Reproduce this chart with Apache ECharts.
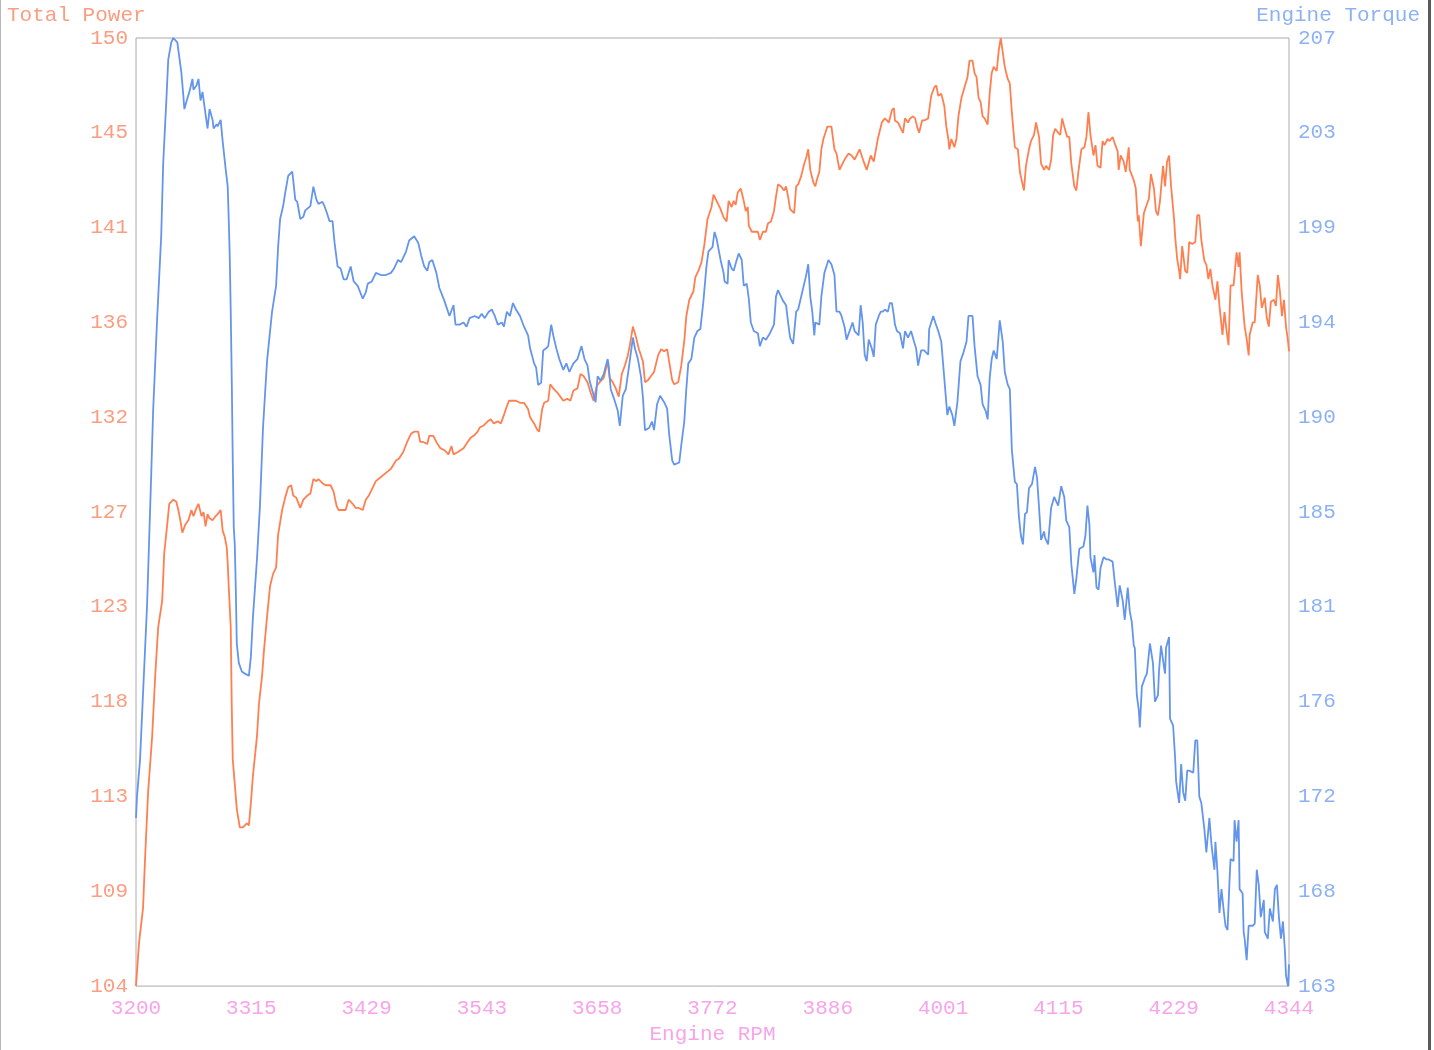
<!DOCTYPE html>
<html>
<head>
<meta charset="utf-8">
<script src="https://cdn.jsdelivr.net/npm/echarts@6/dist/echarts.min.js"></script>
<style>
  html, body { margin: 0; padding: 0; background: #fff; }
  #chart { width: 1434px; height: 1050px; }
</style>
</head>
<body>
<div id="chart"></div>
<script>
// tick labels as printed on the original chart
var rpmLabels = ['3200', '3315', '3429', '3543', '3658', '3772', '3886', '4001', '4115', '4229', '4344'];
var powerLabels = ['104', '109', '113', '118', '123', '127', '132', '136', '141', '145', '150'];
var torqueLabels = ['163', '168', '172', '176', '181', '185', '190', '194', '199', '203', '207'];

// Total Power vs Engine RPM
var powerRpm = [3200,3203,3207,3209,3212,3216,3219,3222,3226,3228,3231,3233,3237,3240,3242,3244,3246,3249,3252,3255,3257,3260,3262,3265,3267,3269,3271,3273,3276,3279,3281,3284,3286,3288,3290,3291,3292,3294,3295,3296,3298,3300,3301,3303,3306,3310,3312,3314,3316,3320,3322,3325,3327,3330,3333,3336,3339,3341,3345,3348,3351,3354,3356,3359,3363,3366,3370,3373,3376,3379,3381,3385,3388,3391,3393,3396,3399,3401,3405,3408,3411,3415,3418,3421,3425,3428,3431,3435,3438,3443,3448,3453,3458,3461,3465,3469,3473,3476,3480,3482,3485,3489,3491,3495,3498,3502,3506,3510,3513,3515,3519,3522,3525,3529,3532,3535,3539,3541,3545,3549,3552,3555,3559,3562,3565,3567,3570,3574,3577,3581,3585,3589,3591,3595,3598,3600,3603,3605,3609,3611,3614,3618,3621,3624,3628,3631,3634,3638,3641,3644,3648,3651,3654,3657,3660,3664,3668,3670,3673,3676,3679,3682,3685,3688,3690,3693,3696,3699,3703,3705,3708,3711,3714,3718,3721,3724,3727,3729,3732,3734,3738,3741,3744,3746,3749,3753,3755,3758,3761,3764,3767,3769,3771,3773,3775,3777,3780,3783,3786,3788,3791,3793,3795,3797,3800,3803,3805,3807,3808,3811,3813,3817,3819,3822,3825,3827,3830,3833,3835,3837,3840,3843,3845,3847,3849,3853,3855,3857,3860,3863,3865,3867,3869,3872,3874,3876,3878,3880,3882,3886,3890,3893,3895,3898,3903,3907,3910,3913,3918,3922,3925,3929,3932,3936,3940,3943,3945,3947,3950,3952,3953,3956,3958,3961,3963,3966,3968,3971,3973,3975,3977,3980,3982,3986,3989,3992,3994,3996,3999,4002,4004,4006,4007,4009,4012,4014,4016,4019,4022,4025,4027,4030,4032,4034,4036,4038,4040,4042,4045,4047,4049,4051,4054,4056,4058,4060,4062,4065,4067,4069,4072,4075,4077,4081,4083,4086,4088,4091,4093,4096,4098,4101,4103,4106,4108,4110,4112,4115,4117,4119,4121,4124,4126,4128,4131,4133,4135,4138,4141,4143,4145,4147,4150,4152,4154,4157,4159,4161,4164,4166,4169,4171,4174,4175,4177,4180,4182,4185,4186,4190,4192,4194,4195,4197,4200,4202,4205,4207,4210,4212,4214,4216,4219,4221,4223,4225,4227,4230,4231,4233,4235,4236,4238,4240,4241,4243,4245,4248,4251,4253,4255,4257,4260,4262,4264,4266,4268,4271,4273,4275,4278,4280,4282,4284,4286,4289,4292,4294,4295,4297,4300,4302,4304,4305,4308,4310,4313,4315,4317,4320,4322,4324,4326,4329,4331,4333,4335,4337,4339,4341,4343,4344];
var powerVal = [104.0,106.1,107.8,110.2,113.4,116.1,119.0,121.4,122.7,125.0,126.4,127.4,127.6,127.5,127.1,126.6,126.0,126.4,126.6,127.1,126.8,127.2,127.4,126.8,127.0,126.3,126.9,126.7,126.6,126.8,126.9,127.1,126.1,125.8,125.3,124.5,123.4,121.4,117.6,115.0,113.8,112.6,112.3,111.7,111.7,111.9,111.8,112.9,114.2,116.1,117.7,119.0,120.3,121.9,123.4,124.0,124.3,125.9,127.1,127.7,128.2,128.3,127.8,127.7,127.2,127.6,127.8,127.9,128.6,128.5,128.6,128.4,128.3,128.3,128.3,128.0,127.3,127.1,127.1,127.1,127.6,127.4,127.2,127.2,127.1,127.6,127.8,128.2,128.5,128.7,128.9,129.1,129.5,129.6,129.9,130.4,130.8,130.9,130.9,130.4,130.4,130.3,130.7,130.7,130.4,130.1,130.0,129.8,130.2,129.8,129.9,130.0,130.1,130.4,130.6,130.7,130.9,131.1,131.2,131.4,131.5,131.3,131.4,131.3,131.7,132.0,132.4,132.4,132.4,132.3,132.3,132.0,131.6,131.3,131.0,130.9,132.0,132.3,132.4,133.2,133.0,132.8,132.6,132.4,132.5,132.4,132.9,133.0,133.7,133.6,133.3,132.8,132.4,133.1,133.3,133.5,134.3,133.5,133.3,133.0,132.6,133.7,134.1,134.6,135.1,136.0,135.5,134.9,134.3,133.3,133.4,133.6,133.8,134.6,134.9,134.8,134.9,134.3,133.4,133.2,133.3,134.1,135.3,136.5,137.3,137.7,138.4,138.7,139.1,140.0,141.2,141.5,141.8,142.4,142.2,142.0,141.7,141.3,141.1,142.1,141.8,142.1,141.9,142.5,142.7,142.1,141.6,141.8,140.9,140.6,140.6,140.6,140.2,140.6,140.6,141.0,141.1,141.6,142.3,142.9,142.8,142.6,142.8,142.3,141.7,141.5,142.8,142.9,143.3,143.9,144.2,144.6,143.6,143.0,142.8,143.2,143.5,144.6,145.1,145.7,145.7,144.6,144.4,143.6,144.1,144.4,144.3,144.1,144.6,144.0,143.6,144.3,144.0,145.1,145.9,146.1,146.0,145.9,146.5,146.6,146.0,145.9,145.7,145.4,146.1,145.9,146.1,146.2,146.1,145.7,145.4,146.0,146.0,146.1,147.2,147.6,147.7,147.2,147.3,146.7,145.7,145.1,144.6,145.1,144.7,145.1,146.2,147.1,147.6,148.1,148.9,148.9,148.3,148.1,147.1,146.9,146.2,146.1,145.8,147.3,148.3,148.6,148.4,149.4,150.0,149.3,148.6,148.0,147.8,146.4,144.7,144.6,143.5,142.6,143.8,144.6,145.0,145.3,145.9,145.2,143.9,143.6,143.8,143.6,144.1,145.3,145.6,145.4,145.3,146.1,145.7,145.2,145.2,143.9,142.8,142.6,143.5,144.6,144.7,145.2,146.4,145.3,144.3,144.8,143.8,143.7,145.0,144.8,145.1,145.0,145.2,144.9,144.5,143.6,144.3,144.0,143.5,144.7,143.6,143.1,142.7,141.1,141.4,139.9,141.5,141.8,142.2,143.4,142.7,141.6,141.4,142.1,143.8,142.8,144.0,144.3,142.8,141.2,140.4,139.3,138.7,138.3,139.9,139.1,138.7,138.6,140.1,140.0,140.1,141.4,141.4,140.2,139.2,139.0,138.3,138.8,138.0,137.3,138.2,137.0,135.6,136.7,135.8,135.1,138.0,138.0,139.6,138.9,139.6,137.7,136.0,135.4,134.6,135.6,136.2,136.2,138.5,138.0,136.9,137.4,136.4,136.0,137.2,137.3,137.0,138.5,137.7,136.5,137.3,136.0,135.3,134.8];

// Engine Torque vs Engine RPM
var torqueRpm = [3200,3201,3204,3207,3211,3215,3217,3221,3225,3227,3230,3232,3235,3237,3241,3243,3245,3247,3248,3251,3253,3256,3257,3260,3262,3264,3266,3268,3271,3273,3276,3277,3280,3281,3284,3286,3289,3291,3292,3293,3294,3295,3296,3297,3298,3299,3300,3302,3305,3308,3312,3314,3316,3320,3323,3326,3330,3335,3339,3341,3343,3346,3348,3351,3355,3356,3358,3360,3363,3366,3368,3373,3376,3379,3381,3385,3387,3390,3392,3395,3397,3400,3403,3406,3409,3413,3416,3420,3425,3428,3430,3434,3438,3443,3448,3453,3456,3460,3463,3468,3471,3476,3480,3483,3486,3489,3491,3494,3498,3501,3506,3511,3515,3517,3521,3525,3528,3531,3536,3540,3543,3546,3550,3553,3556,3559,3563,3565,3568,3571,3574,3577,3581,3585,3589,3591,3595,3597,3599,3602,3604,3607,3609,3612,3614,3617,3620,3624,3627,3630,3634,3638,3642,3645,3648,3650,3653,3656,3658,3661,3664,3668,3669,3671,3674,3678,3680,3683,3686,3689,3693,3695,3698,3701,3703,3705,3709,3712,3714,3717,3720,3724,3727,3729,3732,3734,3739,3741,3744,3746,3748,3751,3754,3757,3760,3763,3766,3768,3772,3774,3776,3778,3780,3783,3784,3787,3788,3791,3793,3796,3798,3801,3803,3806,3808,3810,3813,3817,3819,3822,3825,3829,3833,3835,3837,3842,3845,3847,3849,3852,3855,3857,3860,3863,3865,3867,3869,3871,3873,3874,3878,3880,3883,3885,3887,3890,3893,3895,3898,3900,3903,3905,3908,3911,3913,3917,3919,3921,3923,3925,3927,3930,3932,3934,3937,3939,3941,3943,3946,3948,3950,3952,3953,3955,3958,3961,3963,3966,3969,3972,3974,3976,3979,3982,3986,3987,3991,3993,3996,3999,4002,4005,4007,4010,4012,4015,4018,4021,4024,4026,4030,4032,4035,4038,4040,4043,4045,4047,4049,4051,4054,4057,4060,4062,4065,4067,4069,4072,4074,4076,4078,4080,4082,4084,4086,4089,4092,4094,4096,4098,4101,4102,4105,4106,4108,4111,4113,4115,4118,4121,4123,4126,4128,4131,4133,4136,4140,4142,4144,4146,4147,4150,4151,4153,4155,4157,4160,4163,4165,4169,4171,4174,4176,4179,4181,4184,4186,4188,4190,4191,4193,4195,4196,4198,4201,4203,4206,4209,4211,4214,4215,4217,4220,4221,4222,4225,4226,4229,4231,4232,4235,4237,4239,4241,4243,4245,4249,4251,4253,4255,4257,4260,4262,4265,4267,4270,4271,4273,4275,4277,4279,4281,4283,4285,4286,4289,4290,4292,4294,4295,4298,4299,4300,4302,4304,4308,4310,4312,4314,4316,4319,4320,4323,4325,4328,4330,4332,4334,4336,4338,4340,4341,4343,4344];
var torqueVal = [170.8,171.8,173.5,176.6,180.7,186.6,189.7,194.0,197.8,201.2,204.0,206.0,206.8,207.0,206.8,206.1,205.4,204.3,203.7,204.2,204.5,205.1,204.6,204.8,205.1,204.1,204.5,203.8,202.8,203.7,203.2,202.8,203.0,202.9,203.2,202.2,200.9,200.1,198.6,196.9,194.3,191.2,187.4,184.3,183.5,181.5,178.9,178.0,177.6,177.5,177.4,178.3,180.1,182.8,185.3,188.9,192.0,194.3,195.5,197.3,198.6,199.2,199.8,200.6,200.8,200.4,199.5,199.4,198.6,198.7,199.0,199.2,200.1,199.5,199.3,199.4,199.2,198.8,198.5,198.5,197.5,196.4,196.3,195.8,195.8,196.4,195.7,195.5,194.9,195.2,195.6,195.7,196.1,196.0,196.0,196.1,196.3,196.7,196.6,197.1,197.6,197.8,197.5,196.9,196.4,196.2,196.6,196.7,196.1,195.4,194.8,194.1,194.6,193.7,193.7,193.8,193.6,194.0,194.1,194.0,194.2,194.0,194.3,194.4,194.1,193.7,193.8,193.6,194.3,194.1,194.7,194.4,194.1,193.6,193.2,192.6,191.9,191.7,190.9,191.0,192.5,192.6,192.7,193.7,193.2,192.6,192.1,191.6,191.9,191.5,191.9,192.1,192.7,192.1,191.8,191.1,190.6,190.1,191.3,191.1,191.4,192.1,191.8,190.7,190.3,189.7,189.0,190.4,190.7,191.7,193.1,192.6,192.1,191.3,190.3,188.8,188.9,189.2,188.8,190.0,190.4,190.1,189.8,188.6,187.4,187.2,187.3,188.1,189.2,190.7,191.9,192.1,193.1,193.4,193.5,194.8,196.4,197.1,197.3,198.0,197.7,197.2,196.7,196.1,195.7,195.6,196.7,196.3,196.2,196.7,197.0,196.7,195.5,195.6,194.9,193.8,193.4,193.3,192.7,193.1,193.0,193.3,193.7,195.0,195.3,194.8,194.6,193.8,193.1,192.8,194.3,194.4,195.0,195.6,196.0,196.5,195.0,194.3,193.2,193.8,193.7,195.0,196.1,196.4,196.7,196.5,196.0,194.3,194.3,194.1,193.6,193.0,193.4,193.8,193.4,193.2,194.6,193.8,192.3,192.0,193.0,192.6,192.2,193.7,194.1,194.3,194.3,194.4,194.3,194.7,194.7,194.1,193.7,193.4,193.3,192.6,193.4,193.1,193.4,192.9,192.6,191.8,192.5,192.5,192.3,193.5,194.1,193.8,193.4,192.9,191.2,189.5,189.9,189.5,189.0,190.1,192.0,192.4,192.9,194.1,194.1,192.7,191.3,190.9,190.0,189.7,189.3,191.2,192.1,192.5,192.1,193.9,192.9,191.5,190.9,190.7,187.9,186.4,186.3,184.8,183.9,183.5,184.9,185.0,186.1,186.3,187.1,186.6,185.2,183.7,184.1,183.8,183.5,184.1,185.2,185.7,185.5,185.3,186.2,185.7,184.6,184.3,182.6,181.2,181.9,183.3,183.4,183.9,185.3,184.4,182.9,182.2,183.0,181.5,181.4,182.4,182.9,182.8,182.8,182.7,181.8,180.6,181.6,180.9,180.0,181.5,180.4,179.9,178.8,178.7,176.5,175.8,175.0,176.9,177.3,177.5,178.9,178.0,176.2,176.5,177.6,178.8,177.8,177.5,178.7,179.2,175.4,175.1,173.6,172.5,171.5,173.3,172.0,171.6,173.0,173.0,172.9,174.4,174.4,171.8,171.5,170.3,169.2,170.8,169.6,168.4,169.7,168.3,166.4,167.5,166.6,165.8,165.6,167.9,168.9,168.8,170.7,169.7,170.7,167.5,167.3,165.5,165.2,164.2,165.8,165.8,165.9,168.4,167.7,166.2,167.0,165.5,165.2,166.6,166.0,167.5,167.7,166.2,165.2,166.0,164.6,163.5,163.0,164.0];

var RPM_MIN = 3200, RPM_MAX = 4344;
var POWER_MIN = 104, POWER_MAX = 150;
var TORQUE_MIN = 163, TORQUE_MAX = 207;

// evenly spaced tick positions, labelled with the printed (rounded) numbers
function steps(min, max, n) {
  var out = [];
  for (var i = 0; i <= n; i++) out.push(min + (max - min) * i / n);
  return out;
}
function labelAt(labels, min, max) {
  return function(v) {
    var i = Math.round((v - min) / (max - min) * (labels.length - 1));
    return labels[i] || '';
  };
}
function pairs(xs, ys) {
  return xs.map(function(x, i) { return [x, ys[i]]; });
}

var red = '#ff7f50';
var blue = '#6495ed';
var redText = '#fb9d80';
var blueText = '#8db2f4';
var pinkText = '#f9a3e8';
var font = '"Liberation Mono", "DejaVu Sans Mono", monospace';

var chart = echarts.init(document.getElementById('chart'), null, { renderer: 'canvas' });
chart.setOption({
  animation: false,
  backgroundColor: '#ffffff',
  grid: {
    left: 136, right: 145, top: 38, bottom: 59,
    show: true, borderColor: '#aaaaaa', borderWidth: 1, backgroundColor: 'transparent'
  },
  graphic: [
    { type: 'text', left: 7, top: 5, style: { text: 'Total Power', fill: redText, font: '21px ' + font } },
    { type: 'text', right: 14, top: 5, style: { text: 'Engine Torque', fill: blueText, font: '21px ' + font } },
    { type: 'rect', shape: { x: 0, y: 0, width: 1, height: 1050 }, style: { fill: '#b8b8b8' } },
    { type: 'rect', shape: { x: 1428, y: 0, width: 3, height: 1050 }, style: { fill: '#5a5a5a' } }
  ],
  xAxis: {
    type: 'value',
    min: RPM_MIN, max: RPM_MAX,
    name: 'Engine RPM',
    nameLocation: 'middle',
    nameGap: 36,
    nameTextStyle: { color: pinkText, fontFamily: font, fontSize: 21 },
    axisLine: { show: false },
    axisTick: { show: false, customValues: steps(RPM_MIN, RPM_MAX, 10) },
    splitLine: { show: false },
    axisLabel: {
      customValues: steps(RPM_MIN, RPM_MAX, 10),
      formatter: labelAt(rpmLabels, RPM_MIN, RPM_MAX),
      color: pinkText, fontFamily: font, fontSize: 21, margin: 12
    }
  },
  yAxis: [{
    type: 'value',
    position: 'left',
    min: POWER_MIN, max: POWER_MAX,
    axisLine: { show: false },
    axisTick: { show: false, customValues: steps(POWER_MIN, POWER_MAX, 10) },
    splitLine: { show: false },
    axisLabel: {
      customValues: steps(POWER_MIN, POWER_MAX, 10),
      formatter: labelAt(powerLabels, POWER_MIN, POWER_MAX),
      color: redText, fontFamily: font, fontSize: 21, margin: 8
    }
  }, {
    type: 'value',
    position: 'right',
    min: TORQUE_MIN, max: TORQUE_MAX,
    axisLine: { show: false },
    axisTick: { show: false, customValues: steps(TORQUE_MIN, TORQUE_MAX, 10) },
    splitLine: { show: false },
    axisLabel: {
      customValues: steps(TORQUE_MIN, TORQUE_MAX, 10),
      formatter: labelAt(torqueLabels, TORQUE_MIN, TORQUE_MAX),
      color: blueText, fontFamily: font, fontSize: 21, margin: 9
    }
  }],
  series: [{
    name: 'Total Power',
    type: 'line',
    yAxisIndex: 0,
    data: pairs(powerRpm, powerVal),
    showSymbol: false,
    lineStyle: { color: red, width: 1.8 },
    itemStyle: { color: red }
  }, {
    name: 'Engine Torque',
    type: 'line',
    yAxisIndex: 1,
    data: pairs(torqueRpm, torqueVal),
    showSymbol: false,
    lineStyle: { color: blue, width: 1.8 },
    itemStyle: { color: blue }
  }]
});
window.addEventListener('resize', function() { chart.resize(); });
</script>
</body>
</html>
